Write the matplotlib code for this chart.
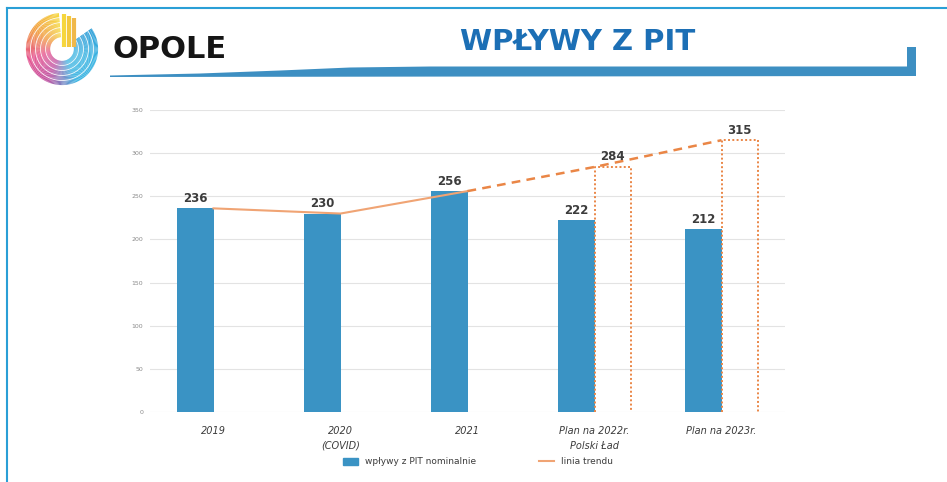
import numpy as np
import matplotlib
matplotlib.use("Agg")
import matplotlib.pyplot as plt
from matplotlib.collections import LineCollection
from matplotlib.colors import LinearSegmentedColormap
from matplotlib.patches import Polygon
from matplotlib.lines import Line2D
from matplotlib.patches import Patch

categories = ["2019", "2020\n(COVID)", "2021", "Plan na 2022r.\nPolski Ład", "Plan na 2023r."]
nominal = [236, 230, 256, 222, 212]
trend = [236, 230, 256, 284, 315]
plan_idx = [3, 4]
y_ticks = [0, 50, 100, 150, 200, 250, 300, 350]

BLUE = "#3a93c4"
ORANGE_SOLID = "#f0a474"
ORANGE_DASH = "#ea8646"
TEXT = "#3c3c3c"

W, H = 947, 482
fig = plt.figure(figsize=(W / 100, H / 100), dpi=100)
fig.patch.set_facecolor("white")

# chart area (pixel bounds taken from the slide)
ax = fig.add_axes([150 / W, 1 - 412 / H, 635 / W, 302 / H])
x = np.arange(len(categories))
bw = 0.29

ax.bar(x - bw / 2, nominal, width=bw, color=BLUE, zorder=3)
for i, v in enumerate(nominal):
    ax.text(x[i] - bw / 2, v + 4, str(v), ha="center", va="bottom",
            fontsize=8.5, fontweight="bold", color=TEXT, zorder=5)

# dotted "plan" boxes
for i in plan_idx:
    v = trend[i]
    ax.plot([x[i], x[i], x[i] + bw, x[i] + bw], [0, v, v, 0],
            color=ORANGE_DASH, lw=1.4, ls=(0, (1, 1.2)), zorder=4)
    ax.text(x[i] + bw / 2, v + 4, str(v), ha="center", va="bottom",
            fontsize=8.5, fontweight="bold", color=TEXT, zorder=5)

# trend line: solid for actuals, dashed for plan
ax.plot(x[:3], trend[:3], color=ORANGE_SOLID, lw=1.5, zorder=4)
ax.plot(x[2:], trend[2:], color=ORANGE_DASH, lw=1.8, ls=(0, (3.5, 2.5)), zorder=4)

ax.set_xlim(-0.5, len(categories) - 0.5)
ax.set_ylim(0, 350)
ax.set_yticks(y_ticks)
ax.set_yticklabels([str(t) for t in y_ticks], fontsize=4.5, color="#8a8a8a")
ax.set_xticks(x)
ax.set_xticklabels(categories, fontsize=7, style="italic", color=TEXT, linespacing=1.6)
ax.tick_params(axis="both", length=0)
ax.tick_params(axis="x", pad=10)
ax.tick_params(axis="y", pad=5)
ax.grid(axis="y", color="#e3e3e3", lw=0.8, zorder=0)
for s in ax.spines.values():
    s.set_visible(False)

handles = [Patch(color=BLUE), Line2D([0], [0], color=ORANGE_SOLID, lw=1.5)]
fig.legend(handles, ["wpływy z PIT nominalnie", "linia trendu"], loc="center",
           bbox_to_anchor=(478 / W, 1 - 462 / H), ncol=2, frameon=False,
           fontsize=6.5, handlelength=1.6, handleheight=0.7, columnspacing=7,
           labelcolor=TEXT)

# header overlay in pixel coordinates
hd = fig.add_axes([0, 0, 1, 1], zorder=-1)
hd.set_xlim(0, W)
hd.set_ylim(H, 0)
hd.axis("off")

# frame
hd.plot([7, W], [8, 8], color="#2a9fd6", lw=1.5)
hd.plot([7, 7], [8, H], color="#2a9fd6", lw=1.5)

# swoosh under the title
hd.add_patch(Polygon([(110, 75.5), (200, 73.5), (280, 70.5), (350, 67.5), (430, 66.5),
                      (907, 66.5), (907, 47), (916, 47), (916, 76), (110, 77)],
                     closed=True, color="#3d8fc2", lw=0))

# logo rings
cmap = LinearSegmentedColormap.from_list(
    "opole", ["#f6d63c", "#f29a3c", "#e6508c", "#c04fa0", "#3ab4e2", "#3ab4e2", "#2f9fd8"])
cx, cy = 62, 49
for r in [14, 19, 24, 29, 34]:
    th = np.linspace(np.radians(95), np.radians(395), 160)
    px = cx + r * np.cos(th)
    py = cy - r * np.sin(th)
    pts = np.array([px, py]).T.reshape(-1, 1, 2)
    segs = np.concatenate([pts[:-1], pts[1:]], axis=1)
    lc = LineCollection(segs, cmap=cmap, lw=3.0, capstyle="butt")
    lc.set_array(np.linspace(0, 1, len(segs)))
    hd.add_collection(lc)
for dx, col in [(2, "#f6d63c"), (7, "#f3c83e"), (12, "#f0b84a")]:
    hd.plot([cx + dx, cx + dx], [cy - 2, cy - 36 + dx * 0.4], color=col, lw=3, solid_capstyle="butt")

hd.text(112, 50, "OPOLE", fontsize=22, fontweight="bold", color="#151515",
        va="center", ha="left")
hd.text(578, 42, "WPŁYWY Z PIT", fontsize=21, fontweight="heavy", color="#1c6fb5",
        va="center", ha="center")

fig.savefig("out.png", dpi=100, facecolor="white")
